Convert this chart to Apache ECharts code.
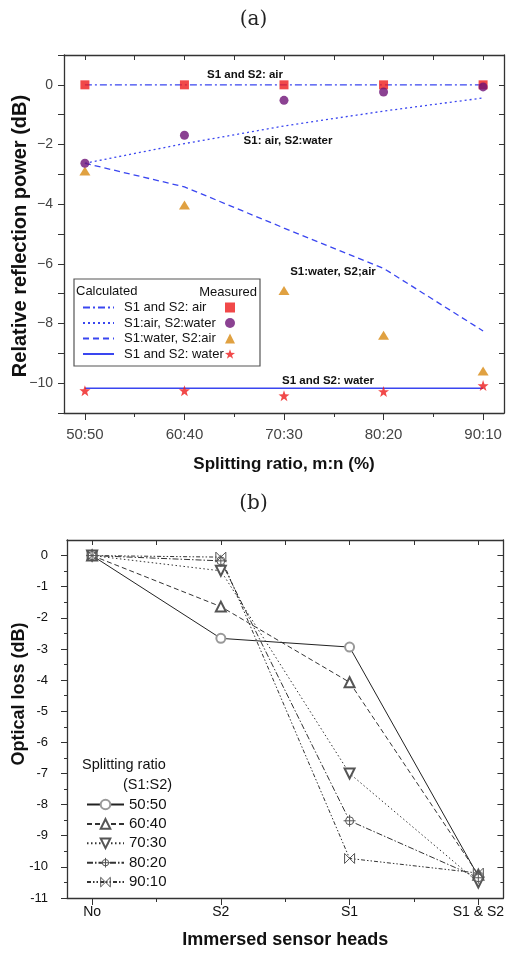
<!DOCTYPE html>
<html>
<head>
<meta charset="utf-8">
<script src="https://cdn.jsdelivr.net/npm/echarts@6/dist/echarts.min.js"></script>
<style>
html,body{margin:0;padding:0;background:#fff;}
#chart{width:507px;height:957px;}
</style>
</head>
<body>
<div id="chart"></div>
<script>
// ---------- data: panel (a) ----------
const ratios = ['50:50', '60:40', '70:30', '80:20', '90:10'];
const calcAir = [0, 0, 0, 0, 0];
const calcAirWater = [-2.63, -1.97, -1.38, -0.88, -0.44];
const calcWaterAir = [-2.63, -3.42, -4.8, -6.15, -8.25];
const calcWater = [-10.17, -10.17, -10.17, -10.17, -10.17];
const measAir = [0, 0, 0, 0, 0];
const measAirWater = [-2.63, -1.69, -0.52, -0.24, -0.07];
const measWaterAir = [-2.89, -4.03, -6.89, -8.39, -9.59];
const measWater = [-10.25, -10.25, -10.42, -10.28, -10.08];
const calcNames = ['S1 and S2: air', 'S1:air, S2:water', 'S1:water, S2:air', 'S1 and S2: water'];
const measNames = ['m: S1 and S2: air', 'm: S1:air, S2:water', 'm: S1:water, S2:air', 'm: S1 and S2: water'];
const aXMajor = [0, 1, 2, 3, 4];
const aXMinor = [0.5, 1.5, 2.5, 3.5];
const aXAll = [0, 0.5, 1, 1.5, 2, 2.5, 3, 3.5, 4];

// ---------- data: panel (b) ----------
const heads = ['No', 'S2', 'S1', 'S1 & S2'];
const ratioNames = ['50:50', '60:40', '70:30', '80:20', '90:10'];
const r5050 = [0, -2.66, -2.94, -10.3];
const r6040 = [0, -1.64, -4.07, -10.25];
const r7030 = [0, -0.49, -7.0, -10.5];
const r8020 = [0, -0.17, -8.52, -10.35];
const r9010 = [0, -0.05, -9.73, -10.2];
const bXMajor = [0, 1, 2, 3];
const bXMinor = [0.5, 1.5, 2.5];
const bXAll = [0, 0.5, 1, 1.5, 2, 2.5, 3];
const bYMajor = [-11, -10, -9, -8, -7, -6, -5, -4, -3, -2, -1, 0];
const bYMinor = [-10.5, -9.5, -8.5, -7.5, -6.5, -5.5, -4.5, -3.5, -2.5, -1.5, -0.5];

const FONT = '"Liberation Sans", Arial, sans-serif';
const AX = '#333';
const BLUE = '#3a46f0';

function pts(arr) { return arr.map((v, i) => [i, v]); }

const STAR = 'path://M0,-10 L2.35,-3.24 L9.51,-3.09 L3.8,1.24 L5.88,8.09 L0,4 L-5.88,8.09 L-3.8,1.24 L-9.51,-3.09 L-2.35,-3.24 Z';
const CROSSCIRCLE = 'path://M9,6 A4,4 0 1 1 1,6 A4,4 0 1 1 9,6 Z M5,0 L5,12 M-1,6 L11,6';
const BOWTIE = 'path://M0,0 L10,10 M10,0 L0,10 M0,0 L0,10 M10,0 L10,10';

const bStyles = [
  { symbol: 'emptyCircle', size: 9, rotate: 0, line: { color: '#222', width: 1, type: 'solid' }, item: { color: '#999', borderWidth: 1 } },
  { symbol: 'emptyTriangle', size: 10, rotate: 0, line: { color: '#333', width: 1, type: [5, 3] }, item: { color: '#555', borderWidth: 1 } },
  { symbol: 'emptyTriangle', size: 10, rotate: 180, line: { color: '#333', width: 1, type: [1.5, 2.5] }, item: { color: '#555', borderWidth: 1 } },
  { symbol: CROSSCIRCLE, size: 12, rotate: 0, line: { color: '#333', width: 1, type: [6, 2, 1.5, 2] }, item: { color: '#fff', borderColor: '#555', borderWidth: 1 } },
  { symbol: BOWTIE, size: 10, rotate: 0, line: { color: '#333', width: 1, type: [4, 2, 1.5, 2, 1.5, 2] }, item: { color: '#fff', borderColor: '#555', borderWidth: 1 } }
];
const bData = [r5050, r6040, r7030, r8020, r9010];

const chart = echarts.init(document.getElementById('chart'), null, { renderer: 'canvas' });

const baseLine = { show: true, onZero: false, lineStyle: { color: AX, width: 1.3 } };
const noLine = { show: false, onZero: false };

const option = {
  backgroundColor: '#fff',
  animation: false,
  textStyle: { fontFamily: FONT },
  grid: [
    { left: 64, top: 55, width: 440, height: 358 },
    { left: 67, top: 540, width: 439, height: 358 }
  ],
  xAxis: [
    // panel a
    { gridIndex: 0, type: 'value', min: -0.21, max: 4.21, position: 'bottom',
      axisLine: baseLine, splitLine: { show: false },
      axisTick: { show: true, customValues: aXMajor, length: 7, lineStyle: { color: AX } },
      axisLabel: { show: true, customValues: aXMajor, margin: 14, fontSize: 15, color: '#444', fontFamily: FONT,
        formatter: v => ratios[Math.round(v)] },
      name: 'Splitting ratio, m:n (%)', nameLocation: 'middle', nameGap: 43,
      nameTextStyle: { fontSize: 17, fontWeight: 'bold', color: '#111', fontFamily: FONT } },
    { gridIndex: 0, type: 'value', min: -0.21, max: 4.21, position: 'bottom',
      axisLine: noLine, splitLine: { show: false }, axisLabel: { show: false },
      axisTick: { show: true, customValues: aXMinor, length: 4, lineStyle: { color: AX } } },
    { gridIndex: 0, type: 'value', min: -0.21, max: 4.21, position: 'top',
      axisLine: baseLine, splitLine: { show: false }, axisLabel: { show: false },
      axisTick: { show: true, inside: true, customValues: aXAll, length: 5, lineStyle: { color: AX } } },
    // panel b
    { gridIndex: 1, type: 'value', min: -0.195, max: 3.195, position: 'bottom',
      axisLine: baseLine, splitLine: { show: false },
      axisTick: { show: true, customValues: bXMajor, length: 7, lineStyle: { color: AX } },
      axisLabel: { show: true, customValues: bXMajor, margin: 7, fontSize: 14, color: '#111', fontFamily: FONT,
        formatter: v => heads[Math.round(v)] },
      name: 'Immersed sensor heads', nameLocation: 'middle', nameGap: 33,
      nameTextStyle: { fontSize: 18, fontWeight: 'bold', color: '#111', fontFamily: FONT } },
    { gridIndex: 1, type: 'value', min: -0.195, max: 3.195, position: 'bottom',
      axisLine: noLine, splitLine: { show: false }, axisLabel: { show: false },
      axisTick: { show: true, customValues: bXMinor, length: 4, lineStyle: { color: AX } } },
    { gridIndex: 1, type: 'value', min: -0.195, max: 3.195, position: 'top',
      axisLine: baseLine, splitLine: { show: false }, axisLabel: { show: false },
      axisTick: { show: true, inside: true, customValues: bXAll, length: 5, lineStyle: { color: AX } } }
  ],
  yAxis: [
    // panel a
    { gridIndex: 0, type: 'value', min: -11, max: 1, interval: 1, position: 'left',
      axisLine: baseLine, splitLine: { show: false },
      axisTick: { show: true, length: 6, lineStyle: { color: AX } },
      axisLabel: { show: true, margin: 11, fontSize: 14, color: '#444', fontFamily: FONT,
        formatter: v => (Math.round(v) % 2 === 0 ? (v < 0 ? '\u2212' + Math.abs(v) : String(v)) : '') } },
    { gridIndex: 0, type: 'value', min: -11, max: 1, interval: 1, position: 'right',
      axisLine: baseLine, splitLine: { show: false }, axisLabel: { show: false },
      axisTick: { show: true, inside: true, length: 5, lineStyle: { color: AX } } },
    // panel b
    { gridIndex: 1, type: 'value', min: -11, max: 0.5, position: 'left',
      axisLine: baseLine, splitLine: { show: false },
      axisTick: { show: true, customValues: bYMajor, length: 6, lineStyle: { color: AX } },
      axisLabel: { show: true, customValues: bYMajor, margin: 19, fontSize: 13, color: '#111', fontFamily: FONT,
        formatter: v => String(v) } },
    { gridIndex: 1, type: 'value', min: -11, max: 0.5, position: 'left',
      axisLine: noLine, splitLine: { show: false }, axisLabel: { show: false },
      axisTick: { show: true, customValues: bYMinor, length: 3, lineStyle: { color: AX } } },
    { gridIndex: 1, type: 'value', min: -11, max: 0.5, position: 'right',
      axisLine: baseLine, splitLine: { show: false }, axisLabel: { show: false },
      axisTick: { show: true, inside: true, customValues: bYMajor, length: 6, lineStyle: { color: AX } } },
    { gridIndex: 1, type: 'value', min: -11, max: 0.5, position: 'right',
      axisLine: noLine, splitLine: { show: false }, axisLabel: { show: false },
      axisTick: { show: true, inside: true, customValues: bYMinor, length: 3, lineStyle: { color: AX } } }
  ],
  legend: [
    { data: calcNames, left: 77, top: 296, orient: 'vertical', itemWidth: 31, itemHeight: 10, itemGap: 2.5,
      selectedMode: false, itemStyle: { color: 'transparent', opacity: 0, borderWidth: 0 },
      textStyle: { fontSize: 13, color: '#111', fontFamily: FONT, padding: [0, 0, 0, 5] } },
    { data: measNames, left: 220, top: 296, orient: 'vertical', itemWidth: 10, itemHeight: 10, itemGap: 2.5,
      selectedMode: false, formatter: () => ' ',
      textStyle: { fontSize: 13, fontFamily: FONT } },
    { data: ratioNames.map((n, i) => ({ name: n, itemStyle: bStyles[i].item })),
      left: 81, top: 792, orient: 'vertical', itemWidth: 37, itemHeight: 12, itemGap: 4.4,
      selectedMode: false,
      textStyle: { fontSize: 15, color: '#111', fontFamily: FONT } }
  ],
  graphic: [
    { type: 'text', left: 'center', top: 10, style: { text: '(a)', font: '20px "DejaVu Serif", serif', fill: '#222' } },
    { type: 'text', left: 'center', top: 494, style: { text: '(b)', font: '20px "DejaVu Serif", serif', fill: '#222' } },
    { type: 'text', x: 20, y: 236, rotation: Math.PI / 2, style: { text: 'Relative reflection power (dB)', font: 'bold 20px "Liberation Sans", Arial', fill: '#111', align: 'center', verticalAlign: 'middle' } },
    { type: 'text', x: 19, y: 694, rotation: Math.PI / 2, style: { text: 'Optical loss (dB)', font: 'bold 18px "Liberation Sans", Arial', fill: '#111', align: 'center', verticalAlign: 'middle' } },
    { type: 'rect', shape: { x: 74, y: 279, width: 186, height: 87 }, style: { fill: 'none', stroke: '#555', lineWidth: 1.2 } },
    { type: 'text', x: 76, y: 291, style: { text: 'Calculated', font: '13px "Liberation Sans", Arial', fill: '#111', verticalAlign: 'middle' } },
    { type: 'text', x: 257, y: 292, style: { text: 'Measured', font: '13px "Liberation Sans", Arial', fill: '#111', align: 'right', verticalAlign: 'middle' } },
    { type: 'text', x: 245, y: 75, style: { text: 'S1 and S2: air', font: 'bold 11.5px "Liberation Sans", Arial', fill: '#111', align: 'center', verticalAlign: 'middle' } },
    { type: 'text', x: 288, y: 141, style: { text: 'S1: air, S2:water', font: 'bold 11.5px "Liberation Sans", Arial', fill: '#111', align: 'center', verticalAlign: 'middle' } },
    { type: 'text', x: 333, y: 272, style: { text: 'S1:water, S2;air', font: 'bold 11.5px "Liberation Sans", Arial', fill: '#111', align: 'center', verticalAlign: 'middle' } },
    { type: 'text', x: 328, y: 381, style: { text: 'S1 and S2: water', font: 'bold 11.5px "Liberation Sans", Arial', fill: '#111', align: 'center', verticalAlign: 'middle' } },
    { type: 'text', x: 82, y: 765, style: { text: 'Splitting ratio', font: '14.5px "Liberation Sans", Arial', fill: '#111', verticalAlign: 'middle' } },
    { type: 'text', x: 123, y: 785, style: { text: '(S1:S2)', font: '14.5px "Liberation Sans", Arial', fill: '#111', verticalAlign: 'middle' } }
  ],
  series: [
    // calculated (a)
    { name: calcNames[0], type: 'line', xAxisIndex: 0, yAxisIndex: 0, data: pts(calcAir), symbol: 'none',
      lineStyle: { color: BLUE, width: 1.3, type: [7, 3, 2, 3] }, itemStyle: { color: BLUE }, z: 2 },
    { name: calcNames[1], type: 'line', xAxisIndex: 0, yAxisIndex: 0, data: pts(calcAirWater), symbol: 'none',
      lineStyle: { color: BLUE, width: 1.3, type: [2, 3] }, itemStyle: { color: BLUE }, z: 2 },
    { name: calcNames[2], type: 'line', xAxisIndex: 0, yAxisIndex: 0, data: pts(calcWaterAir), symbol: 'none',
      lineStyle: { color: BLUE, width: 1.3, type: [6, 4] }, itemStyle: { color: BLUE }, z: 2 },
    { name: calcNames[3], type: 'line', xAxisIndex: 0, yAxisIndex: 0, data: pts(calcWater), symbol: 'none',
      lineStyle: { color: BLUE, width: 1.5, type: 'solid' }, itemStyle: { color: BLUE }, z: 2 },
    // measured (a)
    { name: measNames[0], type: 'scatter', xAxisIndex: 0, yAxisIndex: 0, data: pts(measAir), symbol: 'rect', symbolSize: 9,
      itemStyle: { color: '#ee1c1c' }, z: 3 },
    { name: measNames[1], type: 'scatter', xAxisIndex: 0, yAxisIndex: 0, data: pts(measAirWater), symbol: 'circle', symbolSize: 9,
      itemStyle: { color: '#6e1377' }, z: 4 },
    { name: measNames[2], type: 'scatter', xAxisIndex: 0, yAxisIndex: 0, data: pts(measWaterAir), symbol: 'triangle', symbolSize: [11, 9],
      itemStyle: { color: '#d88a12' }, z: 3 },
    { name: measNames[3], type: 'scatter', xAxisIndex: 0, yAxisIndex: 0, data: pts(measWater), symbol: STAR, symbolSize: 11,
      itemStyle: { color: '#ee1c1c' }, z: 3 },
    // panel b
    ...bData.map((arr, i) => ({
      name: ratioNames[i], type: 'line', xAxisIndex: 3, yAxisIndex: 2, data: pts(arr),
      symbol: bStyles[i].symbol, symbolSize: bStyles[i].size, symbolRotate: bStyles[i].rotate,
      lineStyle: bStyles[i].line, itemStyle: bStyles[i].item
    }))
  ]
};

chart.setOption(option);
</script>
</body>
</html>
